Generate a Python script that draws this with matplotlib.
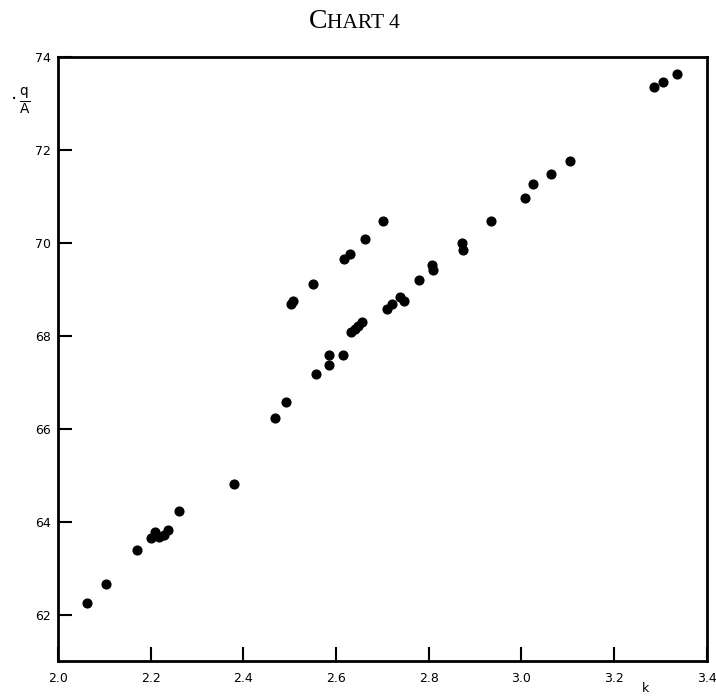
"""Chart 4: q/A against k, scatter of measured points."""
import matplotlib
matplotlib.use("Agg")
import matplotlib.pyplot as plt

# lower band (main series)
k_low = [2.062, 2.104, 2.171, 2.200, 2.210, 2.218, 2.228, 2.238, 2.262,
         2.380, 2.469, 2.493, 2.557, 2.584, 2.585, 2.615, 2.632, 2.640,
         2.647, 2.656, 2.711, 2.721, 2.739, 2.746, 2.780, 2.807, 2.809,
         2.871, 2.873, 2.935, 3.007, 3.025, 3.065, 3.106, 3.286, 3.306,
         3.336]
qa_low = [62.25, 62.65, 63.38, 63.65, 63.78, 63.66, 63.72, 63.82, 64.23,
          64.80, 66.24, 66.58, 67.18, 67.36, 67.59, 67.59, 68.07, 68.14,
          68.20, 68.30, 68.57, 68.69, 68.84, 68.75, 69.20, 69.52, 69.42,
          70.00, 69.85, 70.47, 70.96, 71.26, 71.48, 71.75, 73.35, 73.46,
          73.63]

# upper band
k_up = [2.502, 2.507, 2.551, 2.618, 2.630, 2.662, 2.701]
qa_up = [68.68, 68.75, 69.11, 69.65, 69.76, 70.08, 70.46]

x_ticks = [2.0, 2.2, 2.4, 2.6, 2.8, 3.0, 3.2, 3.4]
x_labels = ["2.0", "2.2", "2.4", "2.6", "2.8", "3.0", "3.2", "3.4"]
y_ticks = [62, 64, 66, 68, 70, 72, 74]
y_labels = ["62", "64", "66", "68", "70", "72", "74"]

fig = plt.figure(figsize=(7.16, 7.0), dpi=100)
ax = fig.add_axes([0.081, 0.0557, 0.906, 0.863])

ax.plot(k_low, qa_low, "o", color="black", ms=6.3, mec="black")
ax.plot(k_up, qa_up, "o", color="black", ms=6.3, mec="black")

ax.set_xlim(2.0, 3.4)
ax.set_ylim(61.0, 74.0)
ax.set_xticks(x_ticks)
ax.set_xticklabels(x_labels)
ax.set_yticks(y_ticks)
ax.set_yticklabels(y_labels)
ax.tick_params(direction="in", length=10, width=1.5, labelsize=9, pad=5,
               colors="black")
ax.tick_params(axis="x", pad=8)
for sp in ax.spines.values():
    sp.set_linewidth(2)
    sp.set_color("black")

# axis labels
ax.text(-0.051, 0.928, r"$\frac{\mathrm{q}}{\mathrm{A}}$", transform=ax.transAxes,
        fontsize=14, ha="center", va="center")
ax.text(-0.068, 0.93, "·", transform=ax.transAxes, fontsize=14,
        ha="center", va="center")
ax.text(0.905, -0.045, "k", transform=ax.transAxes, fontsize=9,
        ha="center", va="center")

# small-caps style title
fig.text(0.457, 0.96, "C", fontsize=20, family="Liberation Serif",
         ha="right", va="baseline")
fig.text(0.457, 0.96, "HART 4", fontsize=15.5, family="Liberation Serif",
         ha="left", va="baseline")

fig.savefig("out.png", dpi=100, facecolor="white")
